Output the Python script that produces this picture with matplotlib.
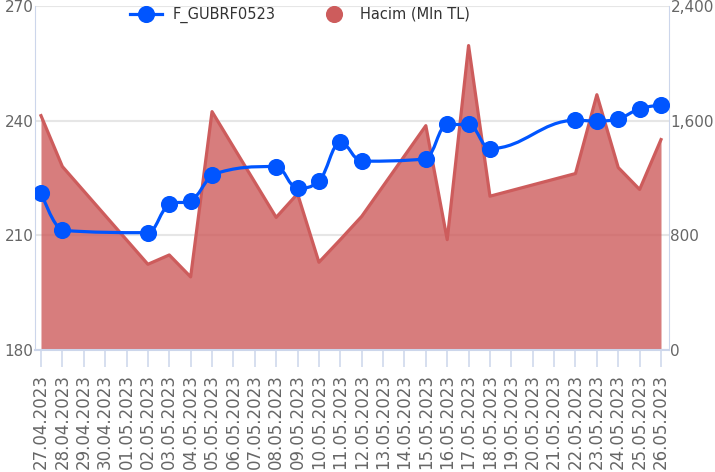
import numpy as np
import pandas as pd
import matplotlib
matplotlib.use("Agg")
import matplotlib.pyplot as plt
import matplotlib.dates as mdates
from matplotlib.path import Path
from matplotlib.patches import PathPatch
from matplotlib.lines import Line2D
from matplotlib.ticker import FuncFormatter

# işlem günleri
dates = ['27.04.2023', '28.04.2023', '02.05.2023', '03.05.2023', '04.05.2023',
         '05.05.2023', '08.05.2023', '09.05.2023', '10.05.2023', '11.05.2023',
         '12.05.2023', '15.05.2023', '16.05.2023', '17.05.2023', '18.05.2023',
         '22.05.2023', '23.05.2023', '24.05.2023', '25.05.2023', '26.05.2023']
price = [221.2, 211.3, 210.7, 218.1, 219.1, 225.9, 228.0, 222.3, 224.2, 234.3,
         229.4, 230.0, 239.0, 239.0, 232.7, 240.1, 239.9, 240.5, 243.1, 244.1]
volume = [1635, 1280, 598, 663, 510, 1663, 925, 1090, 612, 770,
          932, 1565, 770, 2124, 1073, 1231, 1781, 1273, 1120, 1468]

price_ticks = [180, 210, 240, 270]
volume_ticks = [0, 800, 1600, 2400]

BLUE = '#0055ff'
RED = '#cd5c5c'
AXIS = '#ccd6eb'
LABEL = '#666666'


def spline_path(xs, ys, smoothing=1.5):
    # highcharts tarzı spline kontrol noktaları
    n = len(xs)
    left = [None] * n
    right = [None] * n
    for i in range(n):
        px, py = xs[i], ys[i]
        if 0 < i < n - 1:
            lx, ly = xs[i - 1], ys[i - 1]
            nx, ny = xs[i + 1], ys[i + 1]
            d = smoothing + 1
            lcx = (smoothing * px + lx) / d
            lcy = (smoothing * py + ly) / d
            rcx = (smoothing * px + nx) / d
            rcy = (smoothing * py + ny) / d
            corr = (rcy - lcy) * (rcx - px) / (rcx - lcx) + py - rcy
            lcy += corr
            rcy += corr
            if lcy > ly and lcy > py:
                lcy = max(ly, py); rcy = 2 * py - lcy
            elif lcy < ly and lcy < py:
                lcy = min(ly, py); rcy = 2 * py - lcy
            if rcy > ny and rcy > py:
                rcy = max(ny, py); lcy = 2 * py - rcy
            elif rcy < ny and rcy < py:
                rcy = min(ny, py); lcy = 2 * py - rcy
            left[i] = (lcx, lcy)
            right[i] = (rcx, rcy)
        else:
            left[i] = (px, py)
            right[i] = (px, py)
    verts = [(xs[0], ys[0])]
    codes = [Path.MOVETO]
    for i in range(1, n):
        verts += [right[i - 1], left[i], (xs[i], ys[i])]
        codes += [Path.CURVE4] * 3
    return Path(verts, codes)


x = mdates.date2num(pd.to_datetime(dates, format='%d.%m.%Y'))
x0, x1 = x[0], x[-1]

fig = plt.figure(figsize=(7.15, 4.72), dpi=100)
ax1 = fig.add_axes([35 / 715, 122 / 472, 634 / 715, 344 / 472])
ax2 = ax1.twinx()
ax1.set_zorder(ax2.get_zorder() + 1)
ax1.patch.set_visible(False)

# hacim alanı (sağ eksen)
ax2.fill_between(x, volume, 0, color=RED, alpha=0.8, lw=0, zorder=2)
ax2.plot(x, volume, color=RED, lw=2.3, zorder=3)
ax2.set_ylim(0, 2400)
ax2.set_yticks(volume_ticks)
ax2.yaxis.set_major_formatter(FuncFormatter(lambda v, p: f'{int(v):,}'))
ax2.yaxis.grid(True, color='#e6e6e6', lw=1.5, zorder=0)
ax2.set_axisbelow(True)

# fiyat çizgisi (sol eksen)
ax1.add_patch(PathPatch(spline_path(x, price), fill=False, edgecolor=BLUE,
                        lw=2.3, zorder=4))
ax1.plot(x, price, 'o', color=BLUE, ms=11.3, zorder=5)
ax1.set_ylim(180, 270)
ax1.set_yticks(price_ticks)

ax1.set_xlim(x0 - 0.28, x1 + 0.374)
ax1.xaxis.set_major_locator(mdates.DayLocator())
ax1.xaxis.set_major_formatter(mdates.DateFormatter('%d.%m.%Y'))
ax2.tick_params(axis='x', length=0, labelbottom=False)

for s in ['top', 'right', 'left', 'bottom']:
    ax1.spines[s].set_visible(False)
    ax2.spines[s].set_visible(False)
ax1.spines['left'].set_visible(True)
ax1.spines['left'].set_color(AXIS)
ax1.spines['bottom'].set_visible(True)
ax1.spines['bottom'].set_color(AXIS)
ax1.spines['bottom'].set_linewidth(1.5)
ax2.spines['right'].set_visible(True)
ax2.spines['right'].set_color(AXIS)

ax1.tick_params(axis='y', length=0, pad=1, labelsize=11, labelcolor=LABEL)
ax2.tick_params(axis='y', length=0, pad=1, labelsize=11, labelcolor=LABEL)
ax1.tick_params(axis='x', length=12.5, width=1.1, color=AXIS, pad=5,
                labelsize=12, labelcolor=LABEL, labelrotation=90)

handles = [
    Line2D([], [], color=BLUE, lw=2.3, marker='o', ms=11.3),
    Line2D([], [], color=RED, lw=0, marker='o', ms=11.3),
]
fig.legend(handles, ['F_GUBRF0523', 'Hacim (Mln TL)'], loc='center left',
           bbox_to_anchor=(130 / 715, 1 - 15 / 472), ncol=2, frameon=False,
           fontsize=10.5, labelcolor='#333333', handlelength=2.2,
           handletextpad=0.7, columnspacing=2.9, borderpad=0, borderaxespad=0)

fig.savefig('out.png', dpi=100)
